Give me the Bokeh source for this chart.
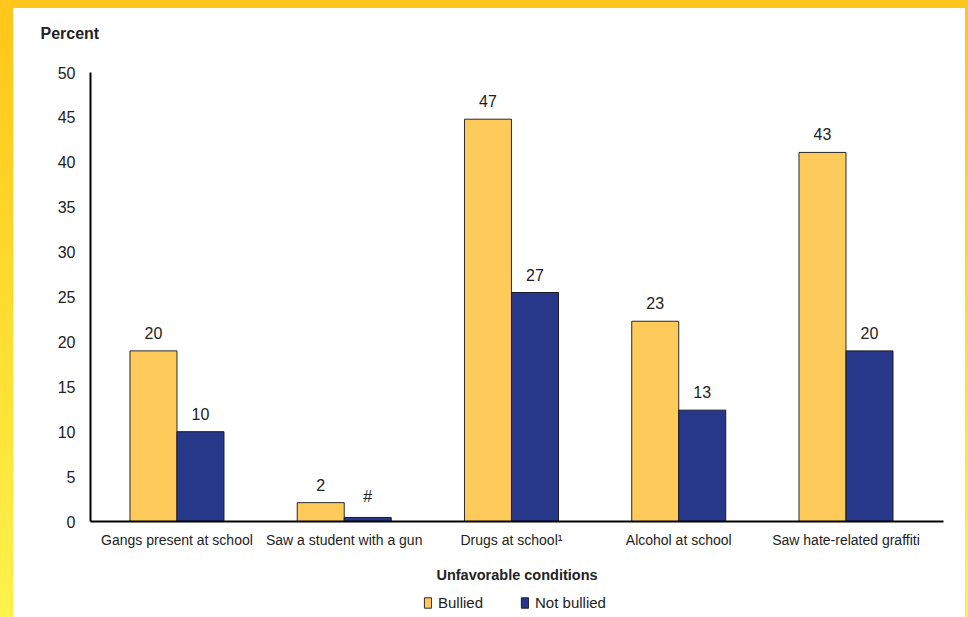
from bokeh.plotting import figure
from bokeh.models import (ColumnDataSource, Range1d, FixedTicker, LabelSet, Legend, LegendItem, Title)
from bokeh.core.properties import value
from bokeh.layouts import column
from bokeh.embed import file_html
from bokeh.resources import INLINE

categories = ["Gangs present at school", "Saw a student with a gun", "Drugs at school\u00b9",
              "Alcohol at school", "Saw hate-related graffiti"]
bullied = [19.0, 2.1, 44.8, 22.3, 41.1]
not_bullied = [10.0, 0.45, 25.5, 12.4, 19.0]
bullied_labels = ["20", "2", "47", "23", "43"]
not_bullied_labels = ["10", "#", "27", "13", "20"]
series_names = ["Bullied", "Not bullied"]
y_ticks = [0, 5, 10, 15, 20, 25, 30, 35, 40, 45, 50]

FONT = "Liberation Sans"
TXT = "#222222"
YEL = "#FECB5B"
NAVY = "#27378A"
BW = 0.281
XR = (-0.517, 4.583)

idx = list(range(len(categories)))
src_b = ColumnDataSource(dict(x=[i - BW / 2 for i in idx], y=bullied, lab=bullied_labels))
src_n = ColumnDataSource(dict(x=[i + BW / 2 for i in idx], y=not_bullied, lab=not_bullied_labels))

p = figure(width=952, height=577, output_backend="svg", toolbar_location=None,
           x_range=Range1d(*XR), y_range=Range1d(0, 50),
           min_border_left=77, min_border_right=22, min_border_top=64, min_border_bottom=64)
p.margin = (8, 3, 0, 13)
p.styles = {"background-color": "white"}
p.background_fill_color = "white"
p.border_fill_color = "white"
p.outline_line_color = None
p.xgrid.visible = False
p.ygrid.visible = False

p.vbar(x="x", top="y", width=BW, source=src_b, fill_color=YEL, line_color="#2a2a2a", line_width=1)
p.vbar(x="x", top="y", width=BW, source=src_n, fill_color=NAVY, line_color="#1a1a2a", line_width=1)

for src in (src_b, src_n):
    p.add_layout(LabelSet(x="x", y="y", text="lab", source=src, text_align="center",
                          text_baseline="bottom", y_offset=12, text_font=value(FONT),
                          text_font_size=value("16px"), text_color=TXT))

# y axis
ya = p.yaxis[0]
ya.ticker = FixedTicker(ticks=y_ticks)
ya.major_tick_line_color = None
ya.minor_tick_line_color = None
ya.axis_line_width = 2
ya.axis_line_color = "black"
ya.major_label_text_font = FONT
ya.major_label_text_font_size = "16px"
ya.major_label_text_color = TXT
ya.major_label_standoff = 9

# x axis
xa = p.xaxis[0]
xa.ticker = FixedTicker(ticks=idx)
xa.major_label_overrides = {i: c for i, c in zip(idx, categories)}
xa.major_tick_line_color = None
xa.minor_tick_line_color = None
xa.axis_line_width = 2
xa.axis_line_color = "black"
xa.major_label_text_font = FONT
xa.major_label_text_font_size = "14px"
xa.major_label_text_color = TXT
xa.major_label_standoff = 4
xa.axis_label = "Unfavorable conditions"
xa.axis_label_text_font = FONT
xa.axis_label_text_font_style = "bold"
xa.axis_label_text_font_size = "14.5px"
xa.axis_label_text_color = TXT
xa.axis_label_standoff = 16

# spacer next to the frame, then the "Percent" heading above it
spacer = Title(text=" ", text_font_size="1px", standoff=26, text_color="white")
p.add_layout(spacer, "above")
t = Title(text="Percent", align="left", vertical_align="top", offset=-50, standoff=0,
          text_font=FONT, text_font_size="16px", text_font_style="bold", text_color=TXT)
p.add_layout(t, "above")

# legend strip below the chart (series renderers hidden, only their legend swatches show)
pl = figure(width=952, height=32, output_backend="svg", toolbar_location=None,
            x_range=Range1d(*XR), y_range=Range1d(0, 1),
            min_border=0, x_axis_type=None, y_axis_type=None)
pl.margin = (0, 3, 0, 13)
pl.styles = {"background-color": "white"}
pl.background_fill_color = "white"
pl.border_fill_color = "white"
pl.outline_line_color = None
pl.xgrid.visible = False
pl.ygrid.visible = False
lb = pl.vbar(x="x", top="y", width=BW, source=src_b, fill_color=YEL, line_color="#2a2a2a",
             line_width=1, visible=False)
ln = pl.vbar(x="x", top="y", width=BW, source=src_n, fill_color=NAVY, line_color="#1a1a2a",
             line_width=1, visible=False)

legend = Legend(items=[LegendItem(label=series_names[0], renderers=[lb]),
                       LegendItem(label=series_names[1], renderers=[ln])],
                orientation="horizontal", location=(333, 6),
                glyph_width=9, glyph_height=13, spacing=37, label_standoff=6,
                label_text_font=FONT, label_text_font_size="15px", label_text_color=TXT,
                inactive_fill_alpha=0, click_policy="none",
                border_line_color=None, background_fill_alpha=0, padding=0, margin=0)
pl.add_layout(legend, "center")

layout = column(p, pl, spacing=0,
                styles={"background": "linear-gradient(to bottom, #FFC51A 0%, #FFDC30 50%, #FFF24C 100%)"})

open("out.html", "w").write(file_html(layout, INLINE))
